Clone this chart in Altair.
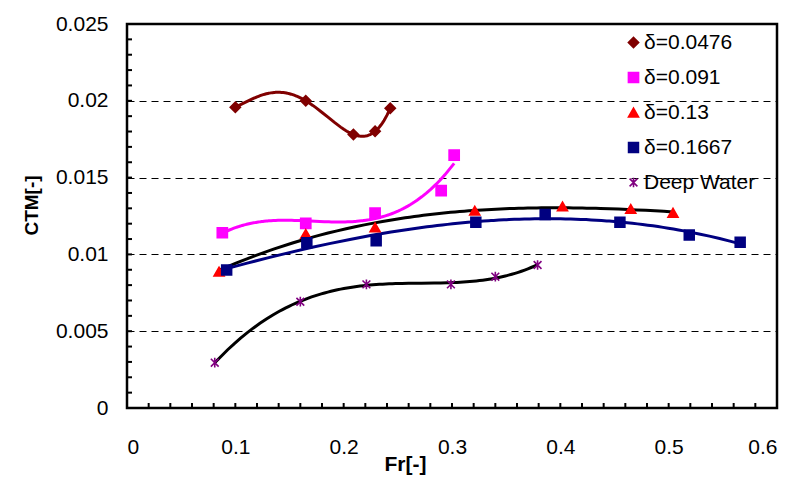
import altair as alt
import pandas as pd

# ---- data ----
fr_0476 = [0.100, 0.165, 0.209, 0.229, 0.243]
ctm_0476 = [0.01958, 0.02000, 0.01781, 0.01801, 0.01951]

fr_091 = [0.088, 0.165, 0.229, 0.290, 0.302]
ctm_091 = [0.01141, 0.01202, 0.01268, 0.01415, 0.01647]

fr_013 = [0.085, 0.165, 0.229, 0.321, 0.402, 0.465, 0.504]
ctm_013 = [0.00888, 0.01133, 0.01176, 0.01285, 0.01312, 0.01296, 0.01271]

fr_1667 = [0.092, 0.166, 0.230, 0.322, 0.386, 0.455, 0.519, 0.566]
ctm_1667 = [0.00898, 0.01076, 0.01089, 0.01209, 0.01260, 0.01209, 0.01126, 0.01079]

fr_deep = [0.081, 0.160, 0.221, 0.299, 0.340, 0.379]
ctm_deep = [0.00295, 0.00692, 0.00805, 0.00805, 0.00855, 0.00931]

series_names = ["δ=0.0476", "δ=0.091", "δ=0.13", "δ=0.1667", "Deep Water"]
series_colors = ["#800000", "#FF00FF", "#FF0000", "#000080", "#800080"]
line_colors = ["#800000", "#FF00FF", "#000000", "#000080", "#000000"]
fit_orders = [4, 3, 3, 3, 4]

ASTERISK = "M0,-1L0,1M-0.8,-0.8L0.8,0.8M-0.8,0.8L0.8,-0.8"
series_shapes = ["diamond", "square", "triangle-up", "square", ASTERISK]
series_sizes = [105, 95, 100, 150, 160]

frames = []
for name, fr, ctm in zip(series_names,
                         [fr_0476, fr_091, fr_013, fr_1667, fr_deep],
                         [ctm_0476, ctm_091, ctm_013, ctm_1667, ctm_deep]):
    frames.append(pd.DataFrame({"Fr": fr, "CTM": ctm, "series": name}))
df = pd.concat(frames, ignore_index=True)

FONT = "Liberation Sans"
X_MAX, Y_MAX = 0.6, 0.025
X_MINOR, Y_MINOR = 0.02, 0.001
xscale = alt.Scale(domain=[0, X_MAX], nice=False, zero=True)
yscale = alt.Scale(domain=[0, Y_MAX], nice=False, zero=True)
TICK_LEN = 5

base = alt.Chart(df)

# axes: labels, titles, dashed grid (ticks drawn separately, pointing inwards)
axes_layer = base.mark_point(opacity=0).encode(
    x=alt.X("Fr:Q", scale=xscale, axis=alt.Axis(
        orient="bottom", tickCount=6, ticks=False, tickSize=0, domain=False, grid=False,
        labelFont=FONT, labelFontSize=21, labelColor="black", labelBaseline="alphabetic",
        labelPadding=45, format="~g",
        title="Fr[-]", titleFont=FONT, titleFontSize=21, titleFontWeight="bold",
        titleColor="black", titleX=278, titleY=62, titleBaseline="alphabetic")),
    y=alt.Y("CTM:Q", scale=yscale, axis=alt.Axis(
        orient="left", tickCount=5, ticks=False, tickSize=0, domain=False,
        grid=True, gridColor="#000000", gridDash=[7, 5], gridWidth=1,
        labelFont=FONT, labelFontSize=21, labelColor="black", labelPadding=19, format="~g",
        title="CTM[-]", titleFont=FONT, titleFontSize=19, titleFontWeight="bold",
        titleColor="black", titleX=-90, titleY=181, titleBaseline="alphabetic")),
)

# inward tick marks along the bottom and left frame
x_ticks = alt.Chart(alt.sequence(0, X_MAX + X_MINOR / 2, X_MINOR, as_="v")).mark_rule(
    color="black", strokeWidth=2
).encode(
    x=alt.X("v:Q", scale=xscale),
    y=alt.value(384),
    y2=alt.value(384 - TICK_LEN),
)
y_ticks = alt.Chart(alt.sequence(0, Y_MAX + Y_MINOR / 2, Y_MINOR, as_="v")).mark_rule(
    color="black", strokeWidth=2
).encode(
    y=alt.Y("v:Q", scale=yscale),
    x=alt.value(0),
    x2=alt.value(TICK_LEN),
)

line_layers = []
for name, lc, order in zip(series_names, line_colors, fit_orders):
    line_layers.append(
        base.transform_filter(alt.datum.series == name)
        .transform_regression("Fr", "CTM", method="poly", order=order)
        .mark_line(color=lc, strokeWidth=3)
        .encode(
            x=alt.X("Fr:Q", scale=xscale),
            y=alt.Y("CTM:Q", scale=yscale),
        )
    )

legend = alt.Legend(
    title=None, orient="none", legendX=496, legendY=8, padding=0,
    labelFont=FONT, labelFontSize=21, labelColor="black", labelOffset=0,
    rowPadding=13, symbolStrokeWidth=1.6, labelLimit=300,
)

points_layer = base.mark_point(filled=True, opacity=1, strokeWidth=1.6).encode(
    x=alt.X("Fr:Q", scale=xscale),
    y=alt.Y("CTM:Q", scale=yscale),
    fill=alt.Fill("series:N", scale=alt.Scale(domain=series_names, range=series_colors), legend=legend),
    stroke=alt.Stroke("series:N", scale=alt.Scale(domain=series_names, range=series_colors), legend=legend),
    shape=alt.Shape("series:N", scale=alt.Scale(domain=series_names, range=series_shapes), legend=legend),
    size=alt.Size("series:N", scale=alt.Scale(domain=series_names, range=series_sizes), legend=legend),
)

chart = alt.layer(axes_layer, x_ticks, y_ticks, *line_layers, points_layer).properties(
    width=650, height=384,
    autosize=alt.AutoSizeParams(type="none"),
    padding={"left": 127, "top": 24, "right": 18, "bottom": 69},
    background="white",
).configure_view(
    stroke="black", strokeWidth=2.5
)

chart.save("out.html", embed_options={"renderer": "svg", "actions": False})
